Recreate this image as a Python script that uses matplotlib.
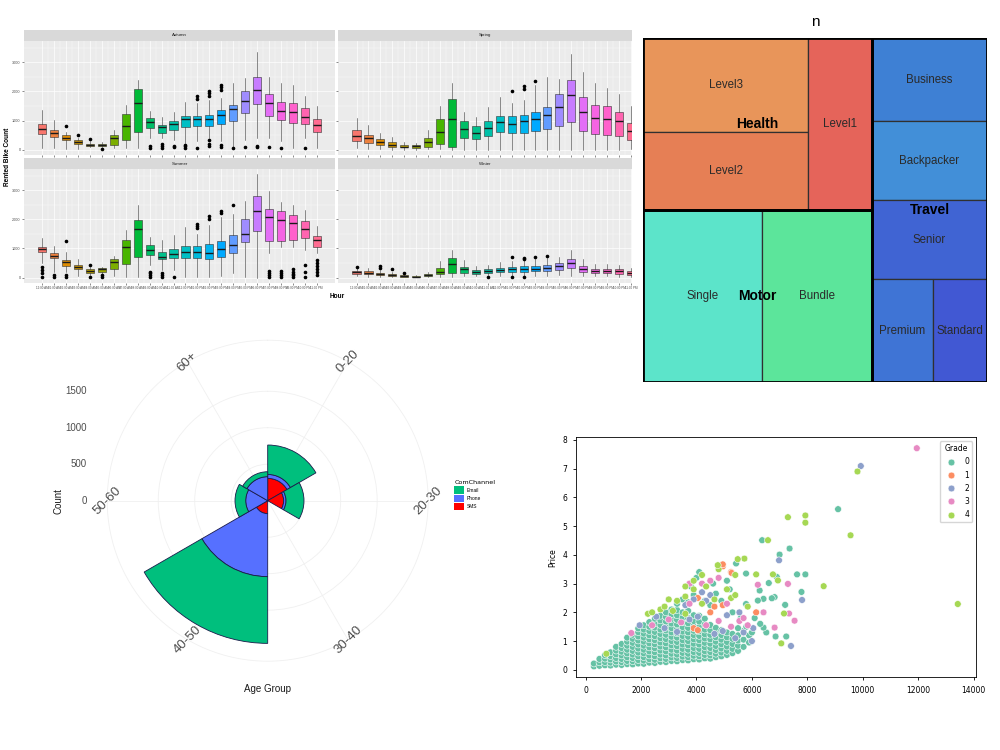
import numpy as np
import pandas as pd
import matplotlib
matplotlib.use("Agg")
import matplotlib.pyplot as plt
from matplotlib.patches import Rectangle, Patch
import seaborn as sns

GG_FONT = "Liberation Sans"

# ---------------- bike rentals: box stats per hour (lo, q1, median, q3, hi) ----------------
hour_labels = ["12:00 AM", "01:00 AM", "02:00 AM", "03:00 AM", "04:00 AM", "05:00 AM",
               "06:00 AM", "07:00 AM", "08:00 AM", "09:00 AM", "10:00 AM", "11:00 AM",
               "12:00 PM", "01:00 PM", "02:00 PM", "03:00 PM", "04:00 PM", "05:00 PM",
               "06:00 PM", "07:00 PM", "08:00 PM", "09:00 PM", "10:00 PM", "11:00 PM"]

autumn = [(60, 550, 720, 880, 1370), (60, 433, 570, 684, 1026), (40, 319, 399, 513, 593),
          (20, 205, 262, 319, 400), (80, 120, 170, 205, 285), (80, 114, 160, 205, 270),
          (57, 171, 400, 513, 684), (57, 342, 821, 1231, 1540), (57, 593, 1596, 2075, 2394),
          (400, 741, 935, 1083, 1345), (400, 570, 775, 855, 1117), (342, 661, 889, 969, 1288),
          (228, 775, 1049, 1140, 1653), (300, 798, 1060, 1163, 1596), (400, 820, 1060, 1197, 1700),
          (300, 889, 1197, 1368, 1767), (100, 969, 1391, 1539, 2280), (342, 1254, 1676, 2018, 2451),
          (400, 1573, 2052, 2508, 3340), (400, 1163, 1596, 1915, 2508), (300, 1003, 1311, 1653, 2280),
          (57, 912, 1277, 1596, 2223), (400, 889, 1117, 1425, 1847), (57, 593, 844, 1049, 1505)]
autumn_out = {2: [800], 3: [513], 4: [376], 5: [20], 9: [114, 57], 10: [205, 137, 57],
              11: [137, 91], 12: [171, 114, 57], 13: [1847, 1733, 57],
              14: [2018, 1938, 1847, 319, 205, 114], 15: [2223, 2166, 2052, 171, 91],
              16: [57], 17: [80], 18: [114, 80], 19: [80], 20: [57], 22: [57]}

spring = [(60, 290, 480, 690, 1100), (30, 230, 400, 510, 850), (20, 170, 250, 380, 570),
          (10, 110, 170, 250, 430), (10, 80, 110, 160, 280), (10, 70, 120, 160, 230),
          (20, 110, 250, 400, 680), (30, 200, 600, 1050, 1500), (10, 90, 1060, 1740, 2280),
          (0, 400, 720, 1000, 1280), (0, 380, 570, 800, 1120), (10, 460, 740, 970, 1460),
          (0, 600, 950, 1140, 1820), (0, 570, 890, 1140, 1600), (0, 570, 990, 1180, 1710),
          (10, 630, 1060, 1300, 2220), (0, 710, 1200, 1460, 2490), (0, 830, 1450, 1920, 2420),
          (0, 935, 1860, 2390, 3280), (0, 630, 1290, 1790, 2660), (0, 540, 1080, 1540, 2280),
          (0, 510, 1060, 1500, 2110), (0, 480, 990, 1290, 1920), (20, 340, 650, 910, 1500)]
spring_out = {13: [2020], 14: [2080, 2170], 15: [2360]}

summer = [(490, 886, 977, 1056, 1375), (200, 660, 750, 860, 1080), (200, 400, 520, 600, 890),
          (60, 300, 375, 440, 625), (90, 170, 240, 280, 375), (90, 200, 280, 320, 375),
          (60, 300, 545, 640, 750), (30, 465, 1034, 1306, 1620), (30, 715, 1670, 1990, 2500),
          (430, 770, 940, 1110, 1400), (260, 625, 715, 885, 1280), (260, 660, 805, 965, 1450),
          (30, 660, 875, 1090, 1740), (30, 660, 865, 1090, 1510), (30, 640, 830, 1150, 1800),
          (60, 715, 977, 1260, 2080), (150, 850, 1110, 1477, 2190), (30, 1227, 1510, 2020, 2650),
          (0, 1600, 2306, 2817, 3556), (830, 1250, 2080, 2363, 2990), (1056, 1250, 1990, 2280, 2590),
          (1056, 1280, 1886, 2160, 2480), (940, 1375, 1680, 1940, 2330), (830, 1056, 1280, 1430, 1760)]
summer_out = {0: [375, 260, 150, 30], 1: [90, 30], 2: [1260, 90, 30], 4: [430, 30], 5: [70, 30],
              9: [200, 150, 90, 30], 10: [150, 90, 30], 11: [20], 13: [1720, 1780, 1850],
              14: [2010, 2100], 15: [2230, 2300], 16: [2480], 19: [230, 150, 90, 30],
              20: [240, 160, 90, 30], 21: [300, 200, 130, 80, 30], 22: [430, 200, 30],
              23: [600, 500, 400, 300, 200, 100]}

winter = [(50, 125, 180, 240, 330), (30, 110, 170, 240, 340), (20, 80, 120, 170, 260),
          (10, 50, 80, 110, 180), (5, 30, 50, 70, 110), (5, 20, 30, 45, 70),
          (10, 50, 90, 130, 200), (20, 110, 200, 330, 560), (20, 170, 465, 660, 940),
          (40, 170, 280, 370, 600), (40, 130, 190, 260, 380), (80, 150, 220, 280, 420),
          (50, 180, 250, 330, 540), (60, 200, 290, 360, 560), (60, 200, 300, 380, 600),
          (60, 210, 310, 400, 630), (60, 230, 330, 430, 680), (80, 260, 400, 490, 700),
          (60, 320, 490, 625, 960), (50, 190, 300, 400, 650), (40, 140, 220, 290, 470),
          (40, 140, 220, 300, 450), (30, 130, 210, 290, 430), (20, 80, 150, 220, 330)]
winter_out = {0: [375], 2: [330, 380], 3: [280], 4: [160], 11: [20], 13: [720, 30],
              14: [650, 680, 30], 15: [690], 16: [750]}

# ---------------- insurance treemap ----------------
policy_type = ["Health", "Health", "Health", "Motor", "Motor",
               "Travel", "Travel", "Travel", "Travel", "Travel"]
policy_plan = ["Level3", "Level2", "Level1", "Single", "Bundle",
               "Business", "Backpacker", "Senior", "Premium", "Standard"]
policy_n = [393, 326, 279, 519, 480, 242, 230, 230, 159, 141]
plan_colors = ["#E8955A", "#E67F55", "#E5645A", "#5CE4CA", "#5CE59B",
               "#3E80D4", "#428FD8", "#4064D3", "#3F74D5", "#4158D3"]
# nesting of the tiles: "h" = side by side, "v" = stacked
tm_layout = ("h", [("v", [("h", [("v", [0, 1]), 2]), ("h", [3, 4])]),
                   ("v", [5, 6, 7, ("h", [8, 9])])])

# ---------------- contact channel by age group ----------------
age_groups = ["0-20", "20-30", "30-40", "40-50", "50-60", "60+"]
email = [403, 246, 0, 914, 147, 68]
phone = [54, 32, 0, 863, 301, 329]
sms = [306, 219, 0, 178, 0, 0]
channel_colors = {"Email": "#00BF7D", "Phone": "#5670FF", "SMS": "#FF0000"}

# ---------------- price scatter, points per grade (x, price) ----------------
grade0_cloud = {
    300: [0.12, 0.22], 500: [0.14, 0.26, 0.38], 700: [0.16, 0.27, 0.39, 0.51],
    900: [0.15, 0.25, 0.36, 0.48, 0.61], 1100: [0.18, 0.29, 0.41, 0.54, 0.67, 0.80],
    1300: [0.17, 0.27, 0.38, 0.50, 0.63, 0.76, 0.90],
    1500: [0.20, 0.31, 0.44, 0.57, 0.70, 0.84, 0.98, 1.12],
    1700: [0.19, 0.30, 0.41, 0.53, 0.66, 0.80, 0.94, 1.08, 1.22],
    1900: [0.22, 0.34, 0.47, 0.60, 0.74, 0.88, 1.02, 1.16, 1.31, 1.44],
    2100: [0.21, 0.32, 0.44, 0.57, 0.70, 0.84, 0.98, 1.12, 1.26, 1.40, 1.55],
    2300: [0.25, 0.37, 0.50, 0.64, 0.78, 0.92, 1.06, 1.20, 1.35, 1.50, 1.66],
    2500: [0.24, 0.35, 0.47, 0.61, 0.75, 0.89, 1.03, 1.17, 1.32, 1.47, 1.62, 1.78],
    2700: [0.28, 0.40, 0.53, 0.67, 0.81, 0.95, 1.10, 1.25, 1.40, 1.56, 1.72, 1.88],
    2900: [0.27, 0.38, 0.50, 0.64, 0.78, 0.92, 1.07, 1.22, 1.37, 1.52, 1.68, 1.84, 2.00],
    3100: [0.31, 0.43, 0.56, 0.70, 0.85, 1.00, 1.15, 1.30, 1.45, 1.61, 1.77, 1.93, 2.10],
    3300: [0.30, 0.41, 0.53, 0.67, 0.82, 0.97, 1.12, 1.27, 1.42, 1.58, 1.74, 1.90, 2.08],
    3500: [0.34, 0.46, 0.59, 0.73, 0.88, 1.03, 1.18, 1.33, 1.49, 1.65, 1.82, 2.00],
    3700: [0.33, 0.44, 0.56, 0.70, 0.85, 1.00, 1.15, 1.30, 1.46, 1.62, 1.80, 2.05],
    3900: [0.37, 0.49, 0.62, 0.76, 0.91, 1.06, 1.21, 1.36, 1.52, 1.70, 1.90],
    4100: [0.36, 0.47, 0.59, 0.73, 0.88, 1.03, 1.18, 1.34, 1.50, 1.68, 1.88],
    4300: [0.40, 0.52, 0.65, 0.79, 0.94, 1.09, 1.24, 1.40, 1.58, 1.78],
    4500: [0.39, 0.50, 0.62, 0.76, 0.91, 1.06, 1.22, 1.38, 1.56],
    4700: [0.44, 0.56, 0.69, 0.83, 0.98, 1.13, 1.29, 1.46],
    4900: [0.47, 0.60, 0.74, 0.89, 1.05, 1.21, 1.38],
    5100: [0.52, 0.66, 0.81, 0.97, 1.13, 1.30], 5300: [0.58, 0.73, 0.90, 1.08, 1.25],
    5500: [0.66, 0.84, 1.02, 1.20], 5700: [0.80, 1.05, 1.35], 5900: [0.95, 1.20],
}
grade0_extra = [(9110, 5.59), (6370, 4.51), (7360, 4.22), (7000, 4.01), (7630, 3.32), (7930, 3.32),
                (6900, 3.23), (6610, 3.02), (7790, 2.71), (7200, 2.26), (6820, 2.53), (6720, 2.49),
                (6420, 2.47), (6215, 2.41), (6280, 2.76), (6855, 1.16), (7240, 1.16), (6520, 1.30),
                (6420, 1.47), (5790, 2.29), (5790, 3.35), (5430, 3.70), (6100, 1.80), (6300, 1.60),
                (3300, 2.30), (3500, 2.45), (3700, 2.35), (3900, 2.60), (4000, 3.20), (4100, 3.40),
                (4300, 2.40), (4500, 2.25), (4700, 2.65), (4900, 2.40), (5100, 3.10), (5200, 2.80),
                (4600, 3.00), (3800, 2.90), (5300, 2.00), (5600, 1.80), (5800, 1.50), (6000, 1.30),
                (5500, 1.45)]
grade1 = [(3900, 1.45), (4050, 1.38), (4050, 2.50), (4500, 2.00), (4650, 2.20), (4950, 2.25),
          (4950, 3.60), (5250, 3.40), (6155, 2.00), (4950, 3.67), (5270, 3.37)]
grade2 = [(1950, 1.55), (2550, 1.85), (2850, 1.45), (3300, 1.32), (3600, 2.25), (3750, 1.75),
          (3900, 2.45), (4050, 1.85), (4200, 2.70), (4350, 2.40), (4500, 2.60), (4650, 1.25),
          (4950, 1.35), (5100, 1.90), (5400, 1.10), (5550, 2.00), (5700, 1.30), (6000, 1.00),
          (9930, 7.09), (6980, 3.81), (7810, 2.43), (7410, 0.83), (6050, 1.45)]
grade3 = [(1650, 1.28), (2400, 1.55), (3000, 1.75), (3450, 1.65), (3750, 2.30), (3750, 3.00),
          (4200, 3.00), (4350, 1.55), (4500, 3.10), (4800, 1.70), (4800, 3.20), (5100, 2.30),
          (5250, 1.50), (5550, 1.70), (5700, 1.80), (5850, 1.55), (11950, 7.71), (7300, 2.99),
          (6215, 2.96), (7340, 1.96), (7540, 1.71), (6820, 1.47), (6420, 2.00)]
grade4 = [(750, 0.56), (2250, 1.95), (2400, 2.00), (2700, 2.10), (2850, 2.20), (3000, 2.45),
          (3150, 2.05), (3300, 2.40), (3600, 1.95), (3600, 2.55), (3600, 2.90), (3900, 2.80),
          (3900, 3.10), (4200, 2.30), (4200, 3.30), (4350, 2.90), (4650, 2.45), (4800, 3.50),
          (5100, 2.80), (5250, 2.50), (5400, 2.60), (5400, 3.30), (5850, 2.20),
          (9810, 6.90), (7300, 5.31), (7930, 5.37), (7930, 5.12), (9560, 4.68), (6580, 4.51),
          (6760, 3.32), (6940, 3.11), (6155, 3.32), (8590, 2.91), (13430, 2.29), (7160, 1.96),
          (7060, 0.92), (5730, 3.87), (5490, 3.85), (4770, 3.64)]


def hcl_hex(h, c=100.0, l=65.0):
    # R's hcl() -> sRGB, used for ggplot's default hue palette
    hr = np.deg2rad(h)
    u, v = c * np.cos(hr), c * np.sin(hr)
    xn, yn, zn = 95.047, 100.0, 108.883
    un = 4 * xn / (xn + 15 * yn + 3 * zn)
    vn = 9 * yn / (xn + 15 * yn + 3 * zn)
    Y = yn * ((l + 16) / 116) ** 3
    up, vp = u / (13 * l) + un, v / (13 * l) + vn
    X = Y * 9 * up / (4 * vp)
    Z = Y * (12 - 3 * up - 20 * vp) / (4 * vp)
    m = np.array([[3.240479, -1.537150, -0.498535],
                  [-0.969256, 1.875992, 0.041556],
                  [0.055648, -0.204043, 1.057311]])
    rgb = m @ (np.array([X, Y, Z]) / 100)
    rgb = np.where(rgb <= 0.0031308, 12.92 * rgb, 1.055 * np.abs(rgb) ** (1 / 2.4) - 0.055)
    return tuple(np.clip(rgb, 0, 1))


hour_colors = [hcl_hex(15 + 15 * i) for i in range(24)]

fig = plt.figure(figsize=(10, 7.5), dpi=100)


def px_rect(x0, y0, x1, y1):
    return [x0 / 1000, 1 - y1 / 750, (x1 - x0) / 1000, (y1 - y0) / 750]


def season_panel(box, strip, name, stats, outliers, xmax, bottom_row, left_col):
    ax = fig.add_axes(px_rect(*box))
    ax.set_facecolor("#EBEBEB")
    data = []
    for i, (lo, q1, med, q3, hi) in enumerate(stats):
        data.append(dict(whislo=lo, q1=q1, med=med, q3=q3, whishi=hi, fliers=outliers.get(i, [])))
    bp = ax.bxp(data, positions=np.arange(1, 25), widths=0.68, patch_artist=True,
                showcaps=False, manage_ticks=False,
                boxprops=dict(edgecolor="#333333", linewidth=0.4),
                whiskerprops=dict(color="#333333", linewidth=0.4),
                medianprops=dict(color="#1A1A1A", linewidth=1.0),
                flierprops=dict(marker="o", markerfacecolor="black", markeredgecolor="black",
                                markersize=1.6))
    for patch, col in zip(bp["boxes"], hour_colors):
        patch.set_facecolor(col)
    ax.set_xlim(-0.53, xmax)
    ax.set_ylim(-178, 3734)
    ax.set_xticks(np.arange(1, 25))
    ax.set_xticks(np.arange(1.5, 24.5, 1), minor=True)
    ax.set_yticks([0, 1000, 2000, 3000])
    ax.set_yticks([500, 1500, 2500, 3500], minor=True)
    ax.grid(which="major", color="white", linewidth=0.5)
    ax.grid(which="minor", color="white", linewidth=0.25)
    ax.set_axisbelow(True)
    for s in ax.spines.values():
        s.set_visible(False)
    ax.tick_params(which="major", length=1.5, width=0.4, color="#333333", pad=1,
                   labelcolor="#4D4D4D")
    ax.tick_params(which="minor", length=0)
    if bottom_row:
        ax.set_xticklabels(hour_labels, fontsize=2.2, family=GG_FONT)
    else:
        ax.set_xticklabels([])
    if left_col:
        ax.set_yticklabels(["0", "1000", "2000", "3000"], fontsize=2.7, family=GG_FONT)
    else:
        ax.set_yticklabels([])
    sax = fig.add_axes(px_rect(*strip))
    sax.set_facecolor("#D9D9D9")
    sax.set_xticks([])
    sax.set_yticks([])
    for s in sax.spines.values():
        s.set_visible(False)
    sax.text(0.5, 0.5, name, ha="center", va="center", fontsize=3.2, color="#1A1A1A",
             family=GG_FONT, transform=sax.transAxes)


season_panel((24, 40.7, 335, 155), (24, 30, 335, 40.7), "Autumn", autumn, autumn_out,
             25.53, False, True)
season_panel((338.3, 40.7, 632, 155), (338.3, 30, 632, 40.7), "Spring", spring, spring_out,
             24.09, False, False)
season_panel((24, 169, 335, 282.7), (24, 158.3, 335, 169), "Summer", summer, summer_out,
             25.53, True, True)
season_panel((338.3, 169, 632, 282.7), (338.3, 158.3, 632, 169), "Winter", winter, winter_out,
             24.09, True, False)
fig.text(0.008, 1 - 157 / 750, "Rented Bike Count", rotation=90, ha="center", va="center",
         fontsize=4.7, fontweight="bold", family=GG_FONT)
fig.text(0.337, 1 - 296 / 750, "Hour", ha="center", va="center",
         fontsize=4.7, fontweight="bold", family=GG_FONT)

# ---------------- treemap ----------------
tax = fig.add_axes(px_rect(643, 38, 987, 382))
tax.set_xlim(0, 1)
tax.set_ylim(1, 0)
tax.axis("off")


def node_total(node):
    if isinstance(node, int):
        return policy_n[node]
    return sum(node_total(k) for k in node[1])


def place(node, x, y, w, h, out):
    if isinstance(node, int):
        out[node] = (x, y, w, h)
        return
    direction, kids = node
    total = node_total(node)
    for k in kids:
        frac = node_total(k) / total
        if direction == "h":
            place(k, x, y, w * frac, h, out)
            x += w * frac
        else:
            place(k, x, y, w, h * frac, out)
            y += h * frac


tiles = {}
place(tm_layout, 0, 0, 1, 1, tiles)
for i, (x, y, w, h) in tiles.items():
    tax.add_patch(Rectangle((x, y), w, h, facecolor=plan_colors[i], edgecolor="#303030",
                            linewidth=0.9))
    tax.text(x + w / 2, y + h / 2, policy_plan[i], ha="center", va="center", fontsize=8.3,
             color="#2A2A2A", family=GG_FONT)
for grp in ["Health", "Motor", "Travel"]:
    idx = [i for i, g in enumerate(policy_type) if g == grp]
    x0 = min(tiles[i][0] for i in idx)
    y0 = min(tiles[i][1] for i in idx)
    x1 = max(tiles[i][0] + tiles[i][2] for i in idx)
    y1 = max(tiles[i][1] + tiles[i][3] for i in idx)
    tax.add_patch(Rectangle((x0, y0), x1 - x0, y1 - y0, fill=False, edgecolor="black",
                            linewidth=2))
    tax.text((x0 + x1) / 2, (y0 + y1) / 2, grp, ha="center", va="center", fontsize=10,
             fontweight="bold", color="black", family=GG_FONT)
tax.text(0.5, -0.025, "n", ha="center", va="bottom", fontsize=11, family=GG_FONT)

# ---------------- polar stacked bars ----------------
pax = fig.add_axes(px_rect(107.2, 340.2, 428.2, 661.2), projection="polar")
pax.set_theta_zero_location("N")
pax.set_theta_direction(-1)
step = 2 * np.pi / len(age_groups)
centers = step * (np.arange(len(age_groups)) + 0.5)
totals = np.array(sms) + np.array(phone) + np.array(email)
rmax = 1.125 * totals.max()
pax.set_ylim(0, rmax)
base = np.zeros(len(age_groups))
for name, vals in [("SMS", sms), ("Phone", phone), ("Email", email)]:
    pax.bar(centers, vals, width=step, bottom=base, color=channel_colors[name],
            edgecolor="#1A1A4A", linewidth=0.6, zorder=3)
    base = base + np.array(vals)
pax.set_xticks(centers)
pax.set_xticklabels([])
pax.set_yticks([500, 1000, 1500])
pax.set_yticklabels([])
pax.grid(True, color="#F0F0F0", linewidth=0.6)
pax.set_axisbelow(True)
pax.spines["polar"].set_color("#F0F0F0")
pax.spines["polar"].set_linewidth(0.6)
for th, lab in zip(centers, age_groups):
    pax.text(th, rmax, lab, rotation=45, ha="center", va="center", fontsize=9.5,
             color="#4D4D4D", family=GG_FONT)
inv = fig.transFigure.inverted()
for v in [0, 500, 1000, 1500]:
    yf = inv.transform(pax.transData.transform((0, v)))[1]
    fig.text(0.0867, yf, str(v), ha="right", va="center", fontsize=7, color="#4D4D4D",
             family=GG_FONT)
fig.text(0.059, 1 - 501 / 750, "Count", rotation=90, ha="center", va="center", fontsize=7,
         color="#1A1A1A", family=GG_FONT)
fig.text(0.268, 1 - 689 / 750, "Age Group", ha="center", va="center", fontsize=7,
         color="#1A1A1A", family=GG_FONT)
fig.legend(handles=[Patch(facecolor=channel_colors[k]) for k in ["Email", "Phone", "SMS"]],
           labels=["Email", "Phone", "SMS"], title="ComChannel", loc="upper left",
           bbox_to_anchor=(0.452, 1 - 478 / 750), frameon=False,
           title_fontsize=4.6, handlelength=2.0, handleheight=1.9, labelspacing=0.2,
           handletextpad=0.5, borderpad=0, alignment="left", prop={"family": GG_FONT, "size": 3.5})

# ---------------- scatter ----------------
xs, ys, gs = [], [], []
for x, vals in grade0_cloud.items():
    for v in vals:
        xs.append(x); ys.append(v); gs.append("0")
for g, pts in [("0", grade0_extra), ("1", grade1), ("2", grade2), ("3", grade3), ("4", grade4)]:
    for x, v in pts:
        xs.append(x); ys.append(v); gs.append(g)
df = pd.DataFrame({"x": xs, "Price": ys, "Grade": gs})

sax = fig.add_axes(px_rect(575.7, 437.3, 976, 677.3))
sns.scatterplot(data=df, x="x", y="Price", hue="Grade", hue_order=["0", "1", "2", "3", "4"],
                palette="Set2", s=24, edgecolor="white", linewidth=0.4, ax=sax)
sax.set_xlabel("")
sax.set_ylabel("Price", fontsize=5.5)
sax.tick_params(labelsize=5.5, length=2.5, width=0.6)
for s in sax.spines.values():
    s.set_linewidth(0.6)
sns.move_legend(sax, "upper right", fontsize=5.5, title_fontsize=5.5, labelspacing=0.55)

fig.savefig("out.png", dpi=100)
